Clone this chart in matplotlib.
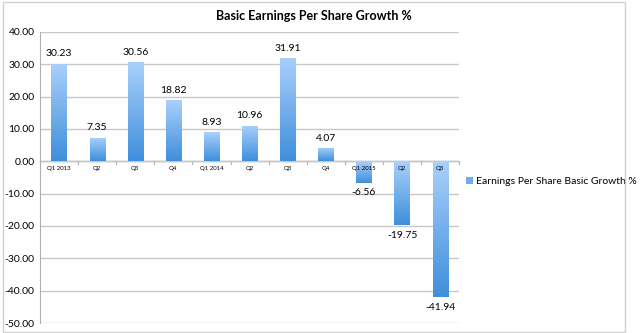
import numpy as np
import matplotlib.pyplot as plt
from matplotlib.colors import LinearSegmentedColormap
from matplotlib.patches import Rectangle

quarters = ["Q1 2013", "Q2", "Q3", "Q4", "Q1 2014", "Q2", "Q3", "Q4", "Q1 2015", "Q2", "Q3"]
growth = [30.23, 7.35, 30.56, 18.82, 8.93, 10.96, 31.91, 4.07, -6.56, -19.75, -41.94]
series_name = "Earnings Per Share Basic Growth %"

plt.rcParams['font.family'] = ['Lato', 'DejaVu Sans']

fig = plt.figure(figsize=(6.4, 3.33), dpi=100)
fig.patches.append(Rectangle((0.004, 0.003), 0.972, 0.99, transform=fig.transFigure,
                             fill=False, edgecolor="#d0d0d0", linewidth=1))
ax = fig.add_axes([0.0625, 0.030, 0.655, 0.874])

cmap = LinearSegmentedColormap.from_list("bar", ["#a9d0fb", "#3f8fdc"])
grad = np.linspace(0, 1, 100).reshape(-1, 1)
x = np.arange(len(growth))
w = 0.4
bars = ax.bar(x, growth, width=w, color="#6aaef0", label=series_name, zorder=2)
for b, v in zip(bars, growth):
    x0 = b.get_x()
    im = ax.imshow(grad, cmap=cmap, aspect="auto", zorder=3,
                   extent=[x0, x0 + w, min(0, v), max(0, v)], origin="upper")
    im.set_clip_path(b)
    if v >= 0:
        ax.annotate(f"{v:.2f}", (b.get_x() + w / 2, v), xytext=(0, 4),
                    textcoords="offset points", ha="center", va="bottom", fontsize=7.5)
    else:
        ax.annotate(f"{v:.2f}", (b.get_x() + w / 2, v), xytext=(0, -4),
                    textcoords="offset points", ha="center", va="top", fontsize=7.5)

ax.set_xlim(-0.5, len(growth) - 0.5)
ax.set_ylim(-50, 40)
ax.set_yticks(np.arange(-50, 41, 10))
ax.set_yticklabels([f"{t:.2f}" for t in np.arange(-50, 41, 10)], fontsize=7.5)
ax.yaxis.grid(True, color="#c8c8c8", linewidth=1, zorder=0)
ax.tick_params(axis="y", length=0, pad=4)

ax.set_xticks([])
for i, q in enumerate(quarters):
    ax.text(i, -1.3, q, ha="center", va="top", fontsize=4.3, zorder=4)
ax.axhline(0, color="#b0b0b0", linewidth=1, zorder=1)
for i in range(len(growth) + 1):
    ax.plot([i - 0.5, i - 0.5], [0, -0.9], color="#b0b0b0", linewidth=0.8, zorder=1,
            clip_on=False)

for s in ["top", "right", "bottom"]:
    ax.spines[s].set_visible(False)
ax.spines["left"].set_color("#b0b0b0")

fig.text(0.49, 0.952, "Basic Earnings Per Share Growth %", ha="center", va="center",
         fontsize=9, fontweight="bold")

ax.legend(loc="center left", bbox_to_anchor=(0.995, 0.485), frameon=False, fontsize=7.5,
          handlelength=0.6, handleheight=0.6, handletextpad=0.3)

fig.savefig("out.png", dpi=100)
